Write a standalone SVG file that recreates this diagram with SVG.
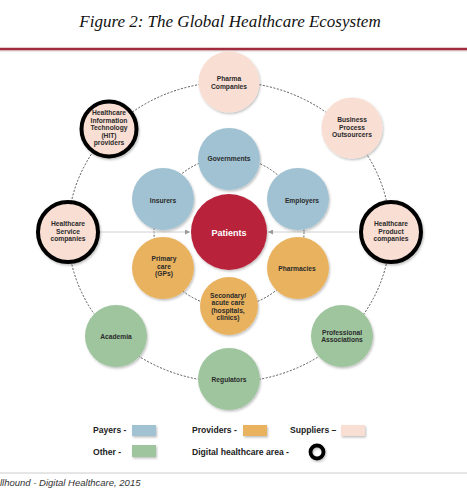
<svg xmlns="http://www.w3.org/2000/svg" width="467" height="492" viewBox="0 0 467 492">
<defs>
<filter id="sh" x="-30%" y="-30%" width="160%" height="160%"><feDropShadow dx="1" dy="1.5" stdDeviation="1.2" flood-color="#000" flood-opacity="0.25"/></filter>
<marker id="ah" viewBox="0 0 10 10" refX="10" refY="5" markerWidth="5" markerHeight="5" orient="auto" markerUnits="userSpaceOnUse"><path d="M0,0 L10,5 L0,10 z" fill="#999"/></marker>
</defs>
<style>
.t{font-family:"Liberation Sans",Arial,sans-serif;font-weight:bold;font-size:6.7px;fill:#2a2a2a;text-anchor:middle}
.lg{font-family:"Liberation Sans",Arial,sans-serif;font-weight:bold;font-size:8.6px;fill:#222}
.ring{fill:none;stroke:#555;stroke-width:1;stroke-dasharray:2 1.6}
.blue{fill:#a0c2d2;filter:url(#sh)}
.orange{fill:#e9b25f;filter:url(#sh)}
.pink{fill:#f9ded3;filter:url(#sh)}
.green{fill:#9fc59f;filter:url(#sh)}
.dig{stroke:#000;stroke-width:4}
.hl{stroke:#d0d0d0;stroke-width:1;fill:none}
</style>
<rect width="467" height="492" fill="#fff"/>
<text x="230" y="27" font-family="'Liberation Serif','Times New Roman',serif" font-style="italic" font-size="17" fill="#111" text-anchor="middle">Figure 2: The Global Healthcare Ecosystem</text>
<line x1="0" y1="49" x2="467" y2="49" stroke="#a12b3c" stroke-width="2.5"/>
<line x1="0" y1="50.8" x2="467" y2="50.8" stroke="#c9a0a5" stroke-width="0.8"/>

<g id="connectors">
<ellipse class="ring" cx="229" cy="232" rx="161" ry="150"/>
<circle class="ring" cx="229" cy="232" r="75"/>
<line class="hl" x1="100" y1="232" x2="190" y2="232" marker-end="url(#ah)"/>
<line class="hl" x1="358" y1="232" x2="268" y2="232" marker-end="url(#ah)"/>
</g>

<g id="pharma"><circle class="pink" cx="229" cy="82" r="30.5"/><text class="t" x="229" y="81">Pharma</text><text class="t" x="229" y="88.5">Companies</text></g>
<g id="bpo"><circle class="pink" cx="352" cy="128" r="30.5"/><text class="t" x="352" y="122">Business</text><text class="t" x="352" y="129.5">Process</text><text class="t" x="352" y="137">Outsourcers</text></g>
<g id="hit"><circle class="pink dig" cx="109" cy="129" r="27.5"/><text class="t" x="109" y="115">Healthcare</text><text class="t" x="109" y="122.5">Information</text><text class="t" x="109" y="130">Technology</text><text class="t" x="109" y="137.5">(HIT)</text><text class="t" x="109" y="145">providers</text></g>
<g id="service"><circle class="pink dig" cx="68" cy="232" r="30"/><text class="t" x="68" y="226">Healthcare</text><text class="t" x="68" y="233.5">Service</text><text class="t" x="68" y="241">companies</text></g>
<g id="product"><circle class="pink dig" cx="391" cy="232" r="30"/><text class="t" x="391" y="226">Healthcare</text><text class="t" x="391" y="233.5">Product</text><text class="t" x="391" y="241">companies</text></g>
<g id="academia"><circle class="green" cx="116" cy="336" r="31"/><text class="t" x="116" y="338.5">Academia</text></g>
<g id="professional"><circle class="green" cx="342" cy="336" r="31"/><text class="t" x="342" y="334.5">Professional</text><text class="t" x="342" y="342">Associations</text></g>
<g id="regulators"><circle class="green" cx="229" cy="379" r="31"/><text class="t" x="229" y="381.5">Regulators</text></g>

<g id="governments"><circle class="blue" cx="229" cy="159" r="31"/><text class="t" x="229" y="161">Governments</text></g>
<g id="insurers"><circle class="blue" cx="163" cy="199" r="31"/><text class="t" x="163" y="203">Insurers</text></g>
<g id="employers"><circle class="blue" cx="298" cy="199" r="31"/><text class="t" x="302" y="203">Employers</text></g>
<g id="primary"><circle class="orange" cx="163" cy="268" r="31"/><text class="t" x="164" y="261">Primary</text><text class="t" x="164" y="268.5">care</text><text class="t" x="164" y="276">(GPs)</text></g>
<g id="pharmacies"><circle class="orange" cx="298" cy="268" r="31"/><text class="t" x="297" y="271">Pharmacies</text></g>
<g id="secondary"><circle class="orange" cx="229" cy="306" r="29"/><text class="t" x="228" y="297.5">Secondary/</text><text class="t" x="228" y="305">acute care</text><text class="t" x="228" y="312.5">(hospitals,</text><text class="t" x="228" y="320">clinics)</text></g>
<g id="patients"><circle cx="229" cy="232" r="38" fill="#b9223b" filter="url(#sh)"/><text x="229" y="235.5" font-family="'Liberation Sans',Arial,sans-serif" font-weight="bold" font-size="9" fill="#fff" text-anchor="middle">Patients</text></g>

<g id="legend">
<text class="lg" x="93" y="433">Payers -</text><rect x="132" y="425" width="24" height="11" fill="#a0c2d2" filter="url(#sh)"/>
<text class="lg" x="192" y="433">Providers -</text><rect x="243" y="425" width="24" height="11" fill="#e9b25f" filter="url(#sh)"/>
<text class="lg" x="290" y="433">Suppliers –</text><rect x="341" y="425" width="24" height="11" fill="#f9ded3" filter="url(#sh)"/>
<text class="lg" x="93" y="455">Other -</text><rect x="132" y="445" width="24" height="12" fill="#9fc59f" filter="url(#sh)"/>
<text class="lg" x="192" y="455">Digital healthcare area -</text><circle cx="317" cy="452" r="6.5" fill="none" stroke="#000" stroke-width="3.8" filter="url(#sh)"/>
</g>
<line x1="0" y1="473" x2="467" y2="473" stroke="#ccc" stroke-width="1"/>
<text x="0" y="486" font-family="'Liberation Sans',Arial,sans-serif" font-style="italic" font-size="9.5" fill="#333">llhound - Digital Healthcare, 2015</text>
</svg>
